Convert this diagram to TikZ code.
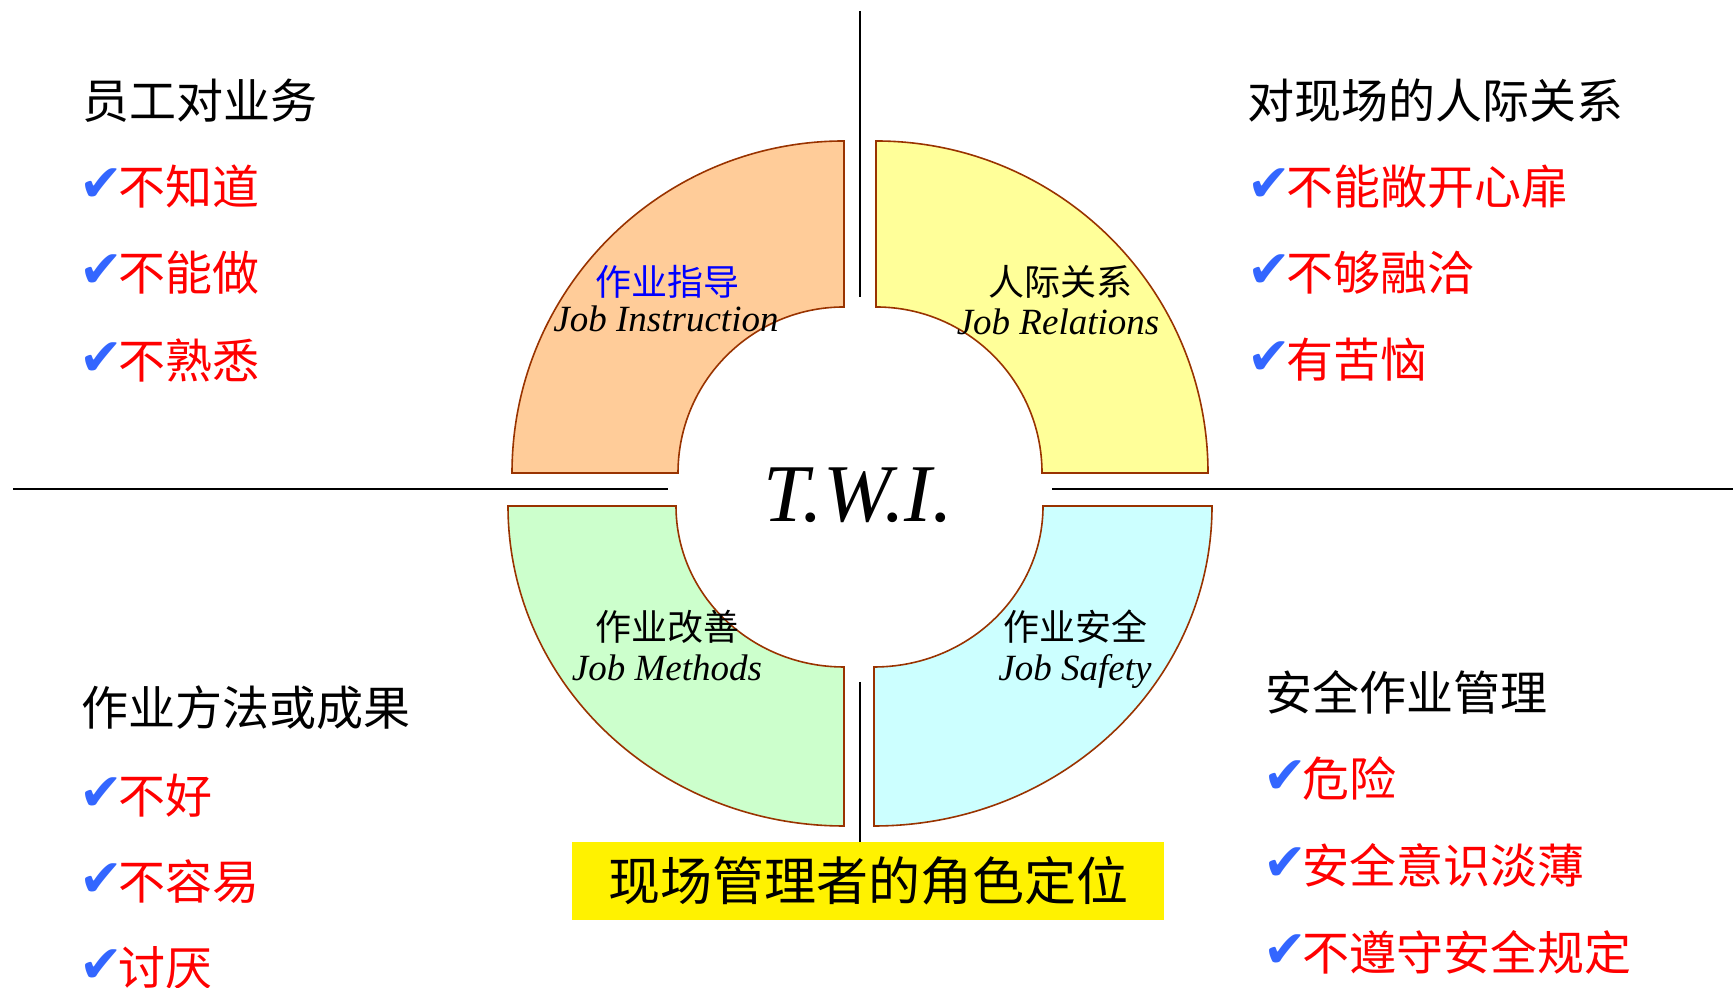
\documentclass[tikz,border=0pt]{standalone}
\usepackage{fontspec}
\setmainfont{Liberation Serif}
\newfontfamily\cjk{Noto Sans CJK SC}
\newfontfamily\symb{DejaVu Sans}
\usepackage{tikz}
\usetikzlibrary{positioning}
\definecolor{ringedge}{RGB}{153,51,0}
\definecolor{ringorange}{RGB}{255,204,153}
\definecolor{ringyellow}{RGB}{255,255,153}
\definecolor{ringgreen}{RGB}{204,255,204}
\definecolor{ringcyan}{RGB}{204,255,255}
\definecolor{tickblue}{RGB}{51,102,255}
\newcommand{\chkmark}{\raisebox{1.5pt}{\symb\color{tickblue}\fontsize{26}{26}\selectfont ✔}\hspace{-2pt}}

\begin{document}
\begin{tikzpicture}[x=0.5pt, y=0.5pt,
    head/.style={anchor=west, inner sep=0pt, font=\cjk\fontsize{23.5}{28}\selectfont},
    item/.style={anchor=west, inner sep=0pt, text=red, font=\cjk\fontsize{23.5}{28}\selectfont},
    ring/.style={draw=ringedge, line width=0.8pt},
    cnlab/.style={inner sep=0pt, font=\cjk\fontsize{18}{20}\selectfont},
    enlab/.style={anchor=base, inner sep=0pt, font=\itshape\fontsize{18.5}{20}\selectfont}]
    \useasboundingbox (0,0) rectangle (1733,988);

    % Ring quadrants
    \draw[ring, fill=ringorange] (844,681) arc[start angle=90, end angle=180, radius=166]
        -- (512,515) arc[start angle=180, end angle=90, radius=332] -- cycle;
    \draw[ring, fill=ringyellow] (876,681) arc[start angle=90, end angle=0, radius=166]
        -- (1208,515) arc[start angle=0, end angle=90, radius=332] -- cycle;
    \draw[ring, fill=ringgreen] (676,482) arc[start angle=180, end angle=270, x radius=168, y radius=161]
        -- (844,162) arc[start angle=270, end angle=180, x radius=336, y radius=320] -- cycle;
    \draw[ring, fill=ringcyan] (1043,482) arc[start angle=0, end angle=-90, x radius=169, y radius=161]
        -- (874,162) arc[start angle=-90, end angle=0, x radius=338, y radius=320] -- cycle;

    % Quadrant labels
    \node[cnlab, text=blue] (jicn) at (667,706) {作业指导};
    \node[enlab] (jien) at (666,656) {Job Instruction};
    \node[cnlab] (jrcn) at (1060,706) {人际关系};
    \node[enlab] (jren) at (1058,653) {Job Relations};
    \node[cnlab] (jmcn) at (667,361) {作业改善};
    \node[enlab] (jmen) at (667,307) {Job Methods};
    \node[cnlab] (jscn) at (1075,361) {作业安全};
    \node[enlab] (jsen) at (1075,307) {Job Safety};

    \node[anchor=base, inner sep=0pt, font=\itshape\fontsize{41}{44}\selectfont] (twi) at (858,466) {T.W.I.};

    % Bottom banner
    \node[fill=yellow, minimum width=296pt, minimum height=39pt, inner sep=0pt,
          font=\cjk\fontsize{26}{30}\selectfont] (role) at (868,107) {现场管理者的角色定位};

    % Axis lines
    \coordinate (hl1) at (13,499);
    \coordinate (hl2) at (668,499);
    \coordinate (hr1) at (1052,499);
    \coordinate (hr2) at (1733,499);
    \coordinate (vt1) at (860,977);
    \coordinate (vt2) at (860,691);
    \coordinate (vb1) at (860,306);
    \draw[line width=1pt] (hl1) -- (hl2);
    \draw[line width=1pt] (hr1) -- (hr2);
    \draw[line width=1pt] (vt1) -- (vt2);
    \draw[line width=1pt] (vb1) -- (vb1 |- role.north);

    % Top left
    \node[head] (tlh) at (82,887) {员工对业务};
    \node[item] (tl1) at (79,801) {\chkmark 不知道};
    \node[item] (tl2) at (79,715) {\chkmark 不能做};
    \node[item] (tl3) at (79,628) {\chkmark 不熟悉};

    % Top right
    \node[head] (trh) at (1247,887) {对现场的人际关系};
    \node[item] (tr1) at (1247,801) {\chkmark 不能敞开心扉};
    \node[item] (tr2) at (1247,715) {\chkmark 不够融洽};
    \node[item] (tr3) at (1247,628) {\chkmark 有苦恼};

    % Bottom left
    \node[head] (blh) at (81,280) {作业方法或成果};
    \node[item] (bl1) at (79,192) {\chkmark 不好};
    \node[item] (bl2) at (79,106) {\chkmark 不容易};
    \node[item] (bl3) at (79,20) {\chkmark 讨厌};

    % Bottom right
    \node[head] (brh) at (1265,296) {安全作业管理};
    \node[item] (br1) at (1263,209) {\chkmark 危险};
    \node[item] (br2) at (1263,123) {\chkmark 安全意识淡薄};
    \node[item] (br3) at (1263,36) {\chkmark 不遵守安全规定};
\end{tikzpicture}
\end{document}
